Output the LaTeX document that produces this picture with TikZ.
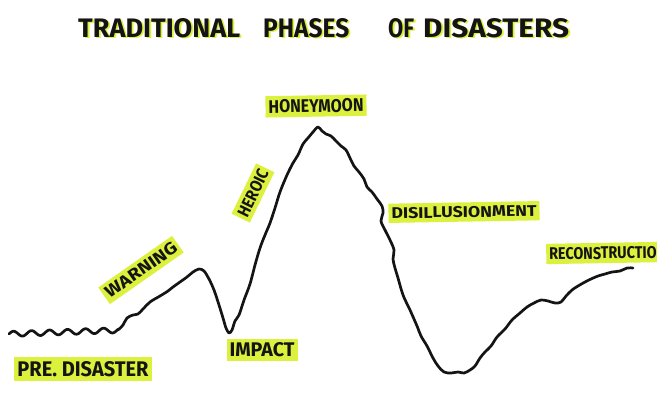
\documentclass[tikz,border=0pt]{standalone}
\usepackage{fontspec}
\usepackage{graphicx}
\newfontfamily\hand{Fira Sans}
\newlength\pxu
\setlength\pxu{0.03cm}
\newcommand\fitpx[3]{\resizebox{#1\pxu}{#2\pxu}{\hand\bfseries #3}}
\definecolor{lime}{RGB}{220,240,62}
\definecolor{ink}{RGB}{20,20,20}
\begin{document}
\begin{tikzpicture}[x=0.03cm,y=-0.03cm,
  curve/.style={draw=ink,line width=2.3pt,line cap=round,line join=round},
  lab/.style={fill=lime,inner xsep=3\pxu,inner ysep=4\pxu,text=ink},
  ttl/.style={inner sep=0pt,anchor=base west,text=ink},
  shadow/.style={inner sep=0pt,anchor=base west,text=lime}]
\useasboundingbox (0,0) rectangle (657,392);
\fill[white] (0,0) rectangle (657,392);
\clip (0,0) rectangle (657,392);

% title (yellow shadow then black)
\foreach \n/\xx/\w/\t in {t1/78/162/TRADITIONAL, t2/263/86/PHASES, t3/388/26/OF, t4/423/146/DISASTERS}{
  \node[shadow] (\n s) at (\xx+1.8,38.3) {\fitpx{\w}{19}{\t}};
  \node[ttl] (\n) at (\xx,37) {\fitpx{\w}{19}{\t}};
}

% curve
\draw[curve] plot[domain=9:118,samples=90,smooth] (\x,{334-0.035*(\x-9)+2.6*sin(\x*20)})
  -- plot[smooth,tension=0.55] coordinates {
  (118,330) (123,325) (127,318) (133,315) (138,314) (143,309) (150,302)
  (160,296) (168,291) (173,287) (180,282) (187,277) (193,272) (199,269)
  (204,271) (209,279) (214,290) (219,305) (223,318) (226,328) (229,333)
  (232,330) (235,321) (239,315) (244,300) (250,284) (255,265) (260,248)
  (265,235) (270,223) (275,208) (280,192) (287,175) (293,163) (298,155)
  (303,144) (308,138) (313,132) (318,127) (322,131) (326,134) (331,136)
  (336,141) (341,146) (346,150) (350,158) (354,166) (359,172) (364,179)
  (367,187) (372,192) (377,199) (382,206) (383,213) (381,221) (385,230)
  (390,240) (394,250) (393,259) (395,268) (398,278) (403,295) (410,310)
  (417,326) (421,336) (427,346) (433,358) (438,366) (444,372) (451,373)
  (458,372) (464,373) (470,370) (475,366) (480,358) (485,352) (491,346)
  (497,337) (505,329) (512,320) (520,313) (527,307) (534,303) (541,300)
  (548,301) (555,303) (561,302) (566,296) (572,290) (578,286) (585,282)
  (591,279) (598,276) (605,274) (612,272) (620,271) (627,268) (633,268)};

% labels
\node[lab] (pre) at (83,369) {\fitpx{131}{15}{PRE. DISASTER}};
\node[lab,rotate=35] (warning) at (141,270) {\fitpx{84}{12}{WARNING}};
\node[lab,rotate=64] (heroic) at (253,193) {\fitpx{50}{12}{HEROIC}};
\node[lab,rotate=1] (honeymoon) at (316,106) {\fitpx{95}{13}{HONEYMOON}};
\node[lab] (impact) at (262,350) {\fitpx{65}{14}{IMPACT}};
\node[lab,rotate=1] (disil) at (464,212) {\fitpx{145}{11}{DISILLUSIONMENT}};
\node[lab,anchor=west,rotate=1] (recon) at (546,254) {\fitpx{117}{12}{RECONSTRUCTION}};
\end{tikzpicture}
\end{document}
